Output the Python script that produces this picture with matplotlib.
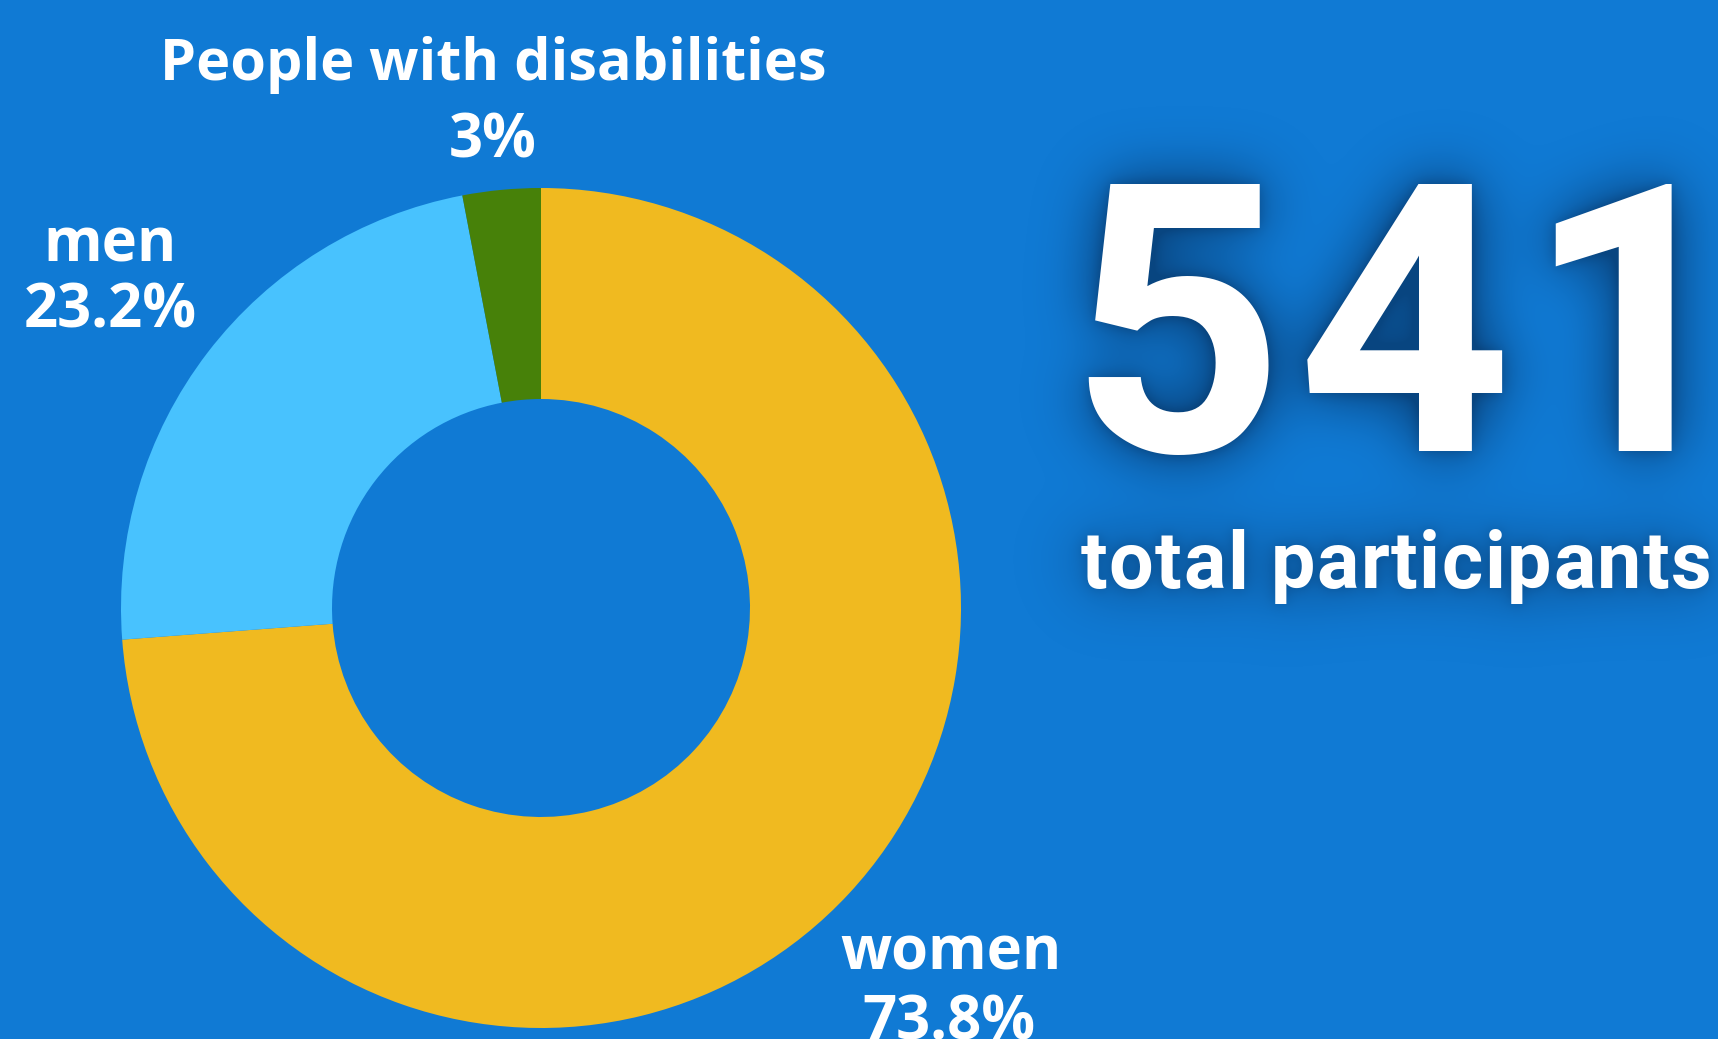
import matplotlib
matplotlib.use("Agg")
import matplotlib.pyplot as plt
import numpy as np
from matplotlib.font_manager import FontProperties, findfont, get_font

# --- data ---------------------------------------------------------------
groups = ["women", "men", "People with disabilities"]
shares = [73.8, 23.2, 3.0]
share_labels = ["73.8%", "23.2%", "3%"]
colors = ["#F0BA20", "#48C2FE", "#478109"]
total_participants = 541
total_caption = "total participants"

BG = "#107AD4"
SHADOW = (0.03, 0.22, 0.42)
W, H = 1718, 1039
DPI = 100


def draw_tracked(ax, xc, y, s, size, tracking, color="white", zorder=3):
    """Draw s centred on xc with extra spacing (pixels) between glyphs."""
    prop = FontProperties(family="Roboto", weight="bold", size=size)
    font = get_font(findfont(prop))
    font.set_size(size, DPI)
    adv = [font.load_char(ord(c)).linearHoriAdvance / 65536 for c in s]
    total = sum(adv) + tracking * (len(s) - 1)
    x = xc - total / 2
    for c, a in zip(s, adv):
        ax.text(x, y, c, fontproperties=prop, color=color, ha="left",
                va="baseline", zorder=zorder)
        x += a + tracking


def big_texts(ax, color="white", zorder=3):
    draw_tracked(ax, 1404, H - 451, f"{total_participants}", 270, 13, color, zorder)
    draw_tracked(ax, 1396, H - 588, total_caption, 57, 1.5, color, zorder)


def blur(m, sigma):
    r = int(3 * sigma)
    k = np.exp(-np.arange(-r, r + 1) ** 2 / (2 * sigma ** 2))
    k /= k.sum()
    m = np.apply_along_axis(lambda v: np.convolve(v, k, mode="same"), 0, m)
    return np.apply_along_axis(lambda v: np.convolve(v, k, mode="same"), 1, m)


def shadow_layer():
    f = plt.figure(figsize=(W / DPI, H / DPI), dpi=DPI)
    f.patch.set_alpha(0)
    a = f.add_axes([0, 0, 1, 1])
    a.set_xlim(0, W)
    a.set_ylim(0, H)
    a.axis("off")
    big_texts(a, color="black")
    f.canvas.draw()
    m = np.asarray(f.canvas.buffer_rgba())[..., 3].astype(float) / 255.0
    plt.close(f)
    wide = blur(m, 30)
    tight = blur(m, 7)
    alpha = np.clip(1.15 * wide + 0.35 * tight, 0, 0.8)
    img = np.zeros((H, W, 4))
    img[..., :3] = SHADOW
    img[..., 3] = alpha
    return img


fig = plt.figure(figsize=(W / DPI, H / DPI), dpi=DPI, facecolor=BG)
ax = fig.add_axes([0, 0, 1, 1])
ax.set_facecolor(BG)

# donut: starts at 12 o'clock, runs clockwise
ax.pie(shares, colors=colors, startangle=90, counterclock=False,
       center=(541, H - 608), radius=420,
       wedgeprops=dict(width=211, linewidth=0), frame=True)

ax.imshow(shadow_layer(), extent=(0, W, 0, H), origin="upper",
          interpolation="bilinear", zorder=0.5)

ax.set_xlim(0, W)
ax.set_ylim(0, H)
ax.set_aspect("equal")
ax.axis("off")

lab_font = dict(family=["Open Sans", "DejaVu Sans"], weight="bold",
                color="white", ha="center", va="baseline")

# label positions (image pixels, top-left origin) for name / value lines
label_pos = {
    "women": ((951, 970), (949, 1040), 43),
    "men": ((110, 262), (110, 328), 43),
    "People with disabilities": ((493, 80), (493, 158), 41.5),
}
for g, v in zip(groups, share_labels):
    (x1, y1), (x2, y2), fs = label_pos[g]
    ax.text(x1, H - y1, g, fontsize=fs, **lab_font)
    ax.text(x2, H - y2, v, fontsize=43, **lab_font)

big_texts(ax)

fig.savefig("out.png", dpi=DPI, facecolor=BG)
